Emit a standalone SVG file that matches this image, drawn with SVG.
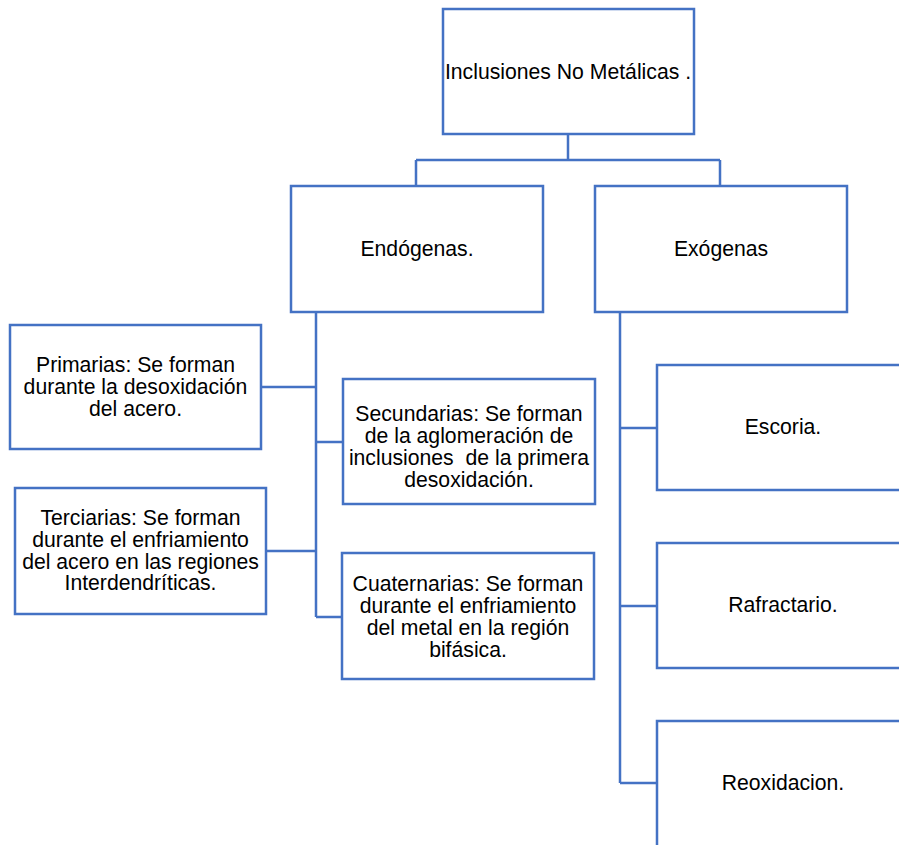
<svg xmlns="http://www.w3.org/2000/svg" width="899" height="845" viewBox="0 0 899 845">
<style>
.box{fill:#fff;stroke:#4472C4;stroke-width:2.5}
.ln{fill:none;stroke:#4472C4;stroke-width:2.5}
text{font-family:"Liberation Sans",Arial,sans-serif;font-size:21.2px;fill:#000;text-anchor:middle}
</style>
<rect width="899" height="845" fill="#fff"/>
<g id="connectors">
<path class="ln" d="M568,134V160M416,160H720M416,160V186M720,160V186"/>
<path class="ln" d="M316,312V617M261,387H316M316,442H343M266,551H316M316,617H342"/>
<path class="ln" d="M620,312V783M620,428H657M620,606H657M620,783H657"/>
</g>
<g id="n-root"><rect class="box" x="443" y="9" width="251" height="125"/><text x="568" y="79">Inclusiones No Metálicas .</text></g>
<g id="n-endo"><rect class="box" x="291" y="186" width="252" height="126"/><text x="417" y="256">Endógenas.</text></g>
<g id="n-exo"><rect class="box" x="595" y="186" width="252" height="126"/><text x="721" y="256">Exógenas</text></g>
<g id="n-prim"><rect class="box" x="10" y="325" width="251" height="124"/><text x="135.5"><tspan x="135.5" y="372">Primarias: Se forman</tspan><tspan x="135.5" y="394">durante la desoxidación</tspan><tspan x="135.5" y="416">del acero.</tspan></text></g>
<g id="n-sec"><rect class="box" x="343" y="379" width="252" height="125"/><text xml:space="preserve"><tspan x="469" y="421">Secundarias: Se forman</tspan><tspan x="469" y="443">de la aglomeración de</tspan><tspan x="469" y="465">inclusiones  de la primera</tspan><tspan x="469" y="487">desoxidación.</tspan></text></g>
<g id="n-ter"><rect class="box" x="15" y="488" width="251" height="126"/><text><tspan x="140.5" y="525">Terciarias: Se forman</tspan><tspan x="140.5" y="547">durante el enfriamiento</tspan><tspan x="140.5" y="569">del acero en las regiones</tspan><tspan x="140.5" y="590">Interdendríticas.</tspan></text></g>
<g id="n-cua"><rect class="box" x="342" y="553" width="252" height="126"/><text><tspan x="468" y="591">Cuaternarias: Se forman</tspan><tspan x="468" y="613">durante el enfriamiento</tspan><tspan x="468" y="635">del metal en la región</tspan><tspan x="468" y="657">bifásica.</tspan></text></g>
<g id="n-esc"><rect class="box" x="657" y="365" width="252" height="125"/><text x="783" y="434">Escoria.</text></g>
<g id="n-raf"><rect class="box" x="657" y="543" width="252" height="125"/><text x="783" y="612">Rafractario.</text></g>
<g id="n-reo"><rect class="box" x="657" y="721" width="252" height="126"/><text x="783" y="790">Reoxidacion.</text></g>
</svg>
